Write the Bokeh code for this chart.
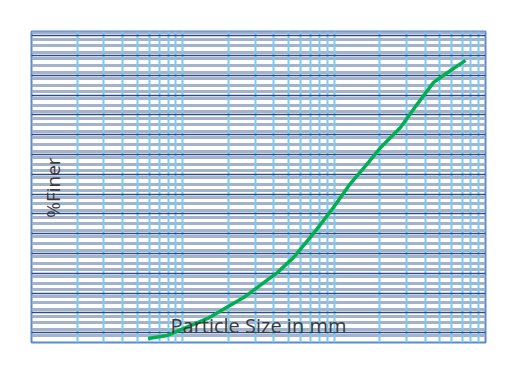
import math
from bokeh.plotting import figure
from bokeh.models import Range1d, Grid, FixedTicker, Label
from bokeh.embed import file_html
from bokeh.resources import INLINE

# Grain size distribution
particle_size_mm = [0.0059, 0.0079, 0.0146, 0.0252, 0.0423, 0.054, 0.0731, 0.0991,
                    0.128, 0.166, 0.203, 0.275, 0.356, 0.454, 0.562, 0.738]
percent_finer = [1.4, 2.5, 8.5, 15.9, 24.8, 30.1, 38.6, 47.8,
                 56.2, 63.3, 69.0, 76.1, 84.5, 92.0, 95.5, 99.8]

x_title = "Particle Size in mm"
y_title = "%Finer"

p = figure(width=500, height=361, x_axis_type="log",
           x_range=Range1d(0.001, 1), y_range=Range1d(0, 110),
           output_backend="svg", toolbar_location=None)
p.min_border_left = 31
p.min_border_right = 15
p.min_border_top = 31
p.min_border_bottom = 19
p.xaxis.visible = False
p.yaxis.visible = False
p.xgrid.grid_line_color = None
p.ygrid.grid_line_color = None
p.background_fill_color = "white"
p.border_fill_color = "white"
p.outline_line_color = "#5B8BC9"
p.outline_line_width = 2

# horizontal minor stripes
minor_y = [i * 7 / 3 for i in range(0, 48)]
p.add_layout(Grid(dimension=1, ticker=FixedTicker(ticks=minor_y),
                  grid_line_color="#9AAAC6", grid_line_width=3, grid_line_alpha=0.9))
# vertical log grid
vticks = [m * 10 ** k for k in range(-3, 0) for m in range(1, 10)] + [1]
p.add_layout(Grid(dimension=0, ticker=FixedTicker(ticks=vticks),
                  grid_line_color="#7CCBEE", grid_line_width=2))
# horizontal major dark lines
major_y = [3.5 + 7 * i for i in range(0, 16)]
p.add_layout(Grid(dimension=1, ticker=FixedTicker(ticks=major_y),
                  grid_line_color="#2B4C86", grid_line_width=1.5))

p.line(particle_size_mm, percent_finer, line_color="#00B050", line_width=3.5)

p.add_layout(Label(x=0.0316, y=6.0, text=x_title, text_align="center",
                   text_baseline="middle", text_font="Open Sans",
                   text_font_size="20px", text_color="#3A3A3A"))
p.add_layout(Label(x=0.00138, y=54.8, text=y_title, text_align="center",
                   text_baseline="middle", text_font="Open Sans", angle=math.pi / 2,
                   text_font_size="19px", text_color="#3A3A3A"))

open("out.html", "w").write(file_html(p, INLINE))
